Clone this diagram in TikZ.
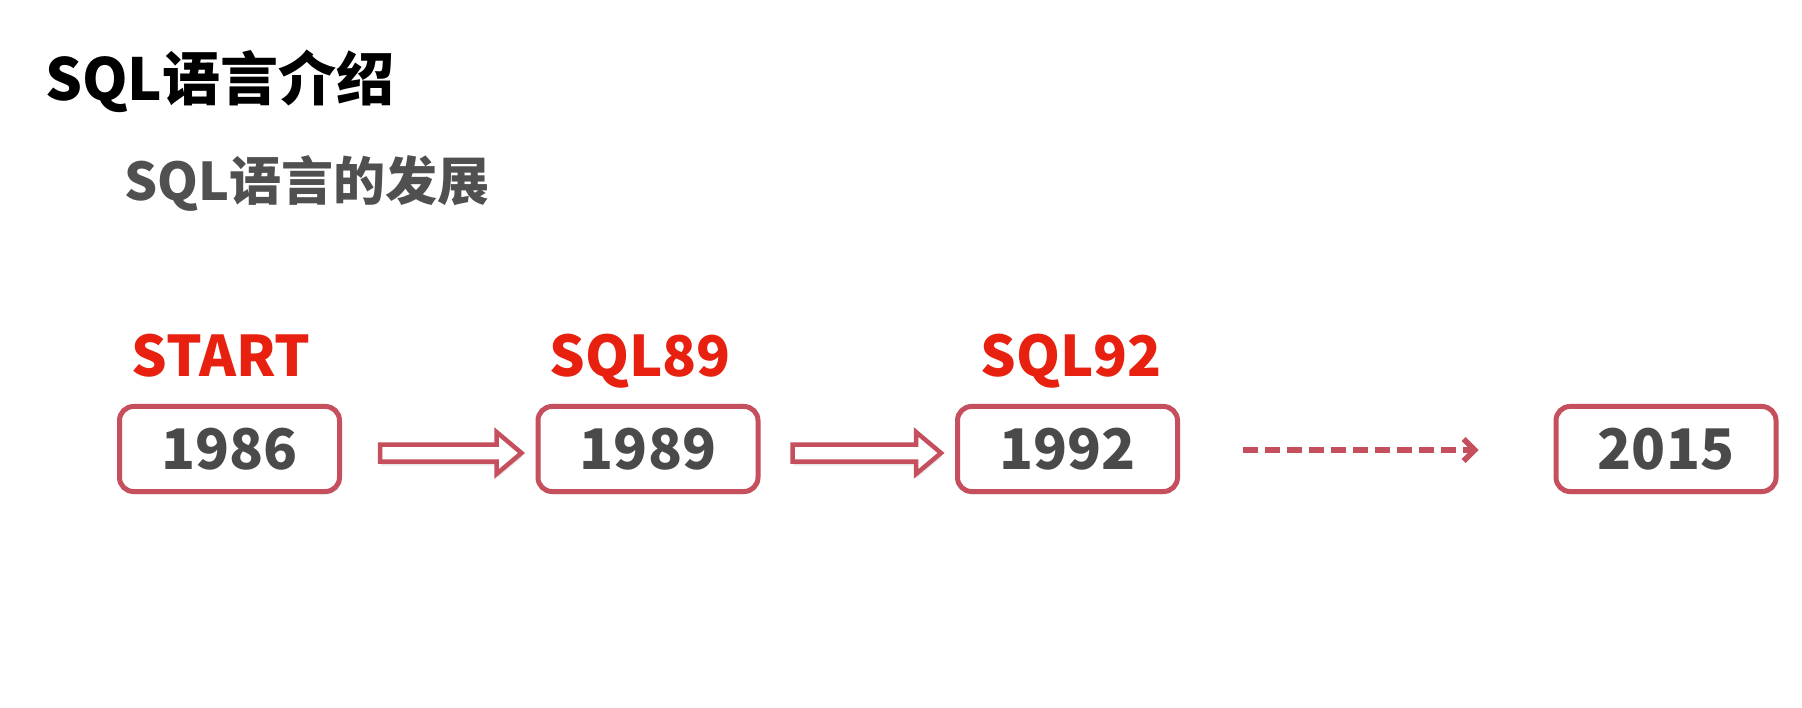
\documentclass[tikz,border=0pt]{standalone}
\usepackage{fontspec}
\setmainfont{Noto Sans CJK SC}
\usetikzlibrary{calc,shadows,arrows.meta}
\definecolor{boxc}{HTML}{C64F5E}
\definecolor{labc}{HTML}{E8200F}
\definecolor{numc}{HTML}{4A4A4A}
\definecolor{subc}{HTML}{505050}
\begin{document}
\begin{tikzpicture}[x=1pt,y=-1pt,
  yearbox/.style={draw=boxc,line width=5pt,rounded corners=14pt,fill=white,
    minimum width=220pt,minimum height=85pt,inner sep=0pt,
    font=\bfseries\fontsize{56}{56}\selectfont,text=numc,
    drop shadow={opacity=0.12,shadow xshift=1pt,shadow yshift=-3pt}},
  stdlabel/.style={anchor=base,inner sep=0pt,text=labc,font=\bfseries\fontsize{56}{56}\selectfont},
  hollowarrow/.style={draw=boxc,line width=4.5pt,fill=white,line join=miter,
    drop shadow={opacity=0.18,shadow xshift=1pt,shadow yshift=-4pt}},
  dasharrow/.style={draw=boxc,line width=5.5pt,dash pattern=on 15pt off 7pt,
    -{Straight Barb[length=11pt,width=22pt,line width=5.5pt,line join=miter]}}
]
\useasboundingbox[fill=white] (0,0) rectangle (1802,708);

\node[anchor=base west,inner sep=0pt,font=\bfseries\fontsize{58}{58}\selectfont] (title) at (45,101) {SQL语言介绍};
\node[anchor=base west,inner sep=0pt,text=subc,font=\bfseries\fontsize{52}{52}\selectfont] (sub) at (124,201) {SQL语言的发展};

\node[yearbox] (b1) at (229.5,449) {1986};
\node[yearbox] (b2) at (648,449) {1989};
\node[yearbox] (b3) at (1067.5,449) {1992};
\node[yearbox] (b4) at (1666,449) {2015};

\node[stdlabel] (l1) at (221,377) {START};
\node[stdlabel] (l2) at (640,377) {SQL89};
\node[stdlabel] (l3) at (1071,377) {SQL92};

% hollow arrows
\coordinate (s1) at ($(b1.east)+(38,4)$);
\coordinate (t1) at ($(b2.west)+(-14,4)$);
\draw[hollowarrow] ($(s1)+(0,-8.5)$) -- ($(t1|-s1)+(-25,-8.5)$) -- ($(t1)+(-25,-21)$) -- (t1)
  -- ($(t1)+(-25,21)$) -- ($(t1|-s1)+(-25,8.5)$) -- ($(s1)+(0,8.5)$) -- cycle;
\coordinate (s2) at ($(b2.east)+(32,4)$);
\coordinate (t2) at ($(b3.west)+(-14,4)$);
\draw[hollowarrow] ($(s2)+(0,-8.5)$) -- ($(t2|-s2)+(-25,-8.5)$) -- ($(t2)+(-25,-21)$) -- (t2)
  -- ($(t2)+(-25,21)$) -- ($(t2|-s2)+(-25,8.5)$) -- ($(s2)+(0,8.5)$) -- cycle;

% dashed arrow
\coordinate (s3) at ($(b3.east)+(63,1)$);
\coordinate (t3) at ($(b4.west)+(-75,1)$);
\draw[dasharrow] (s3) -- (t3);
\end{tikzpicture}
\end{document}
